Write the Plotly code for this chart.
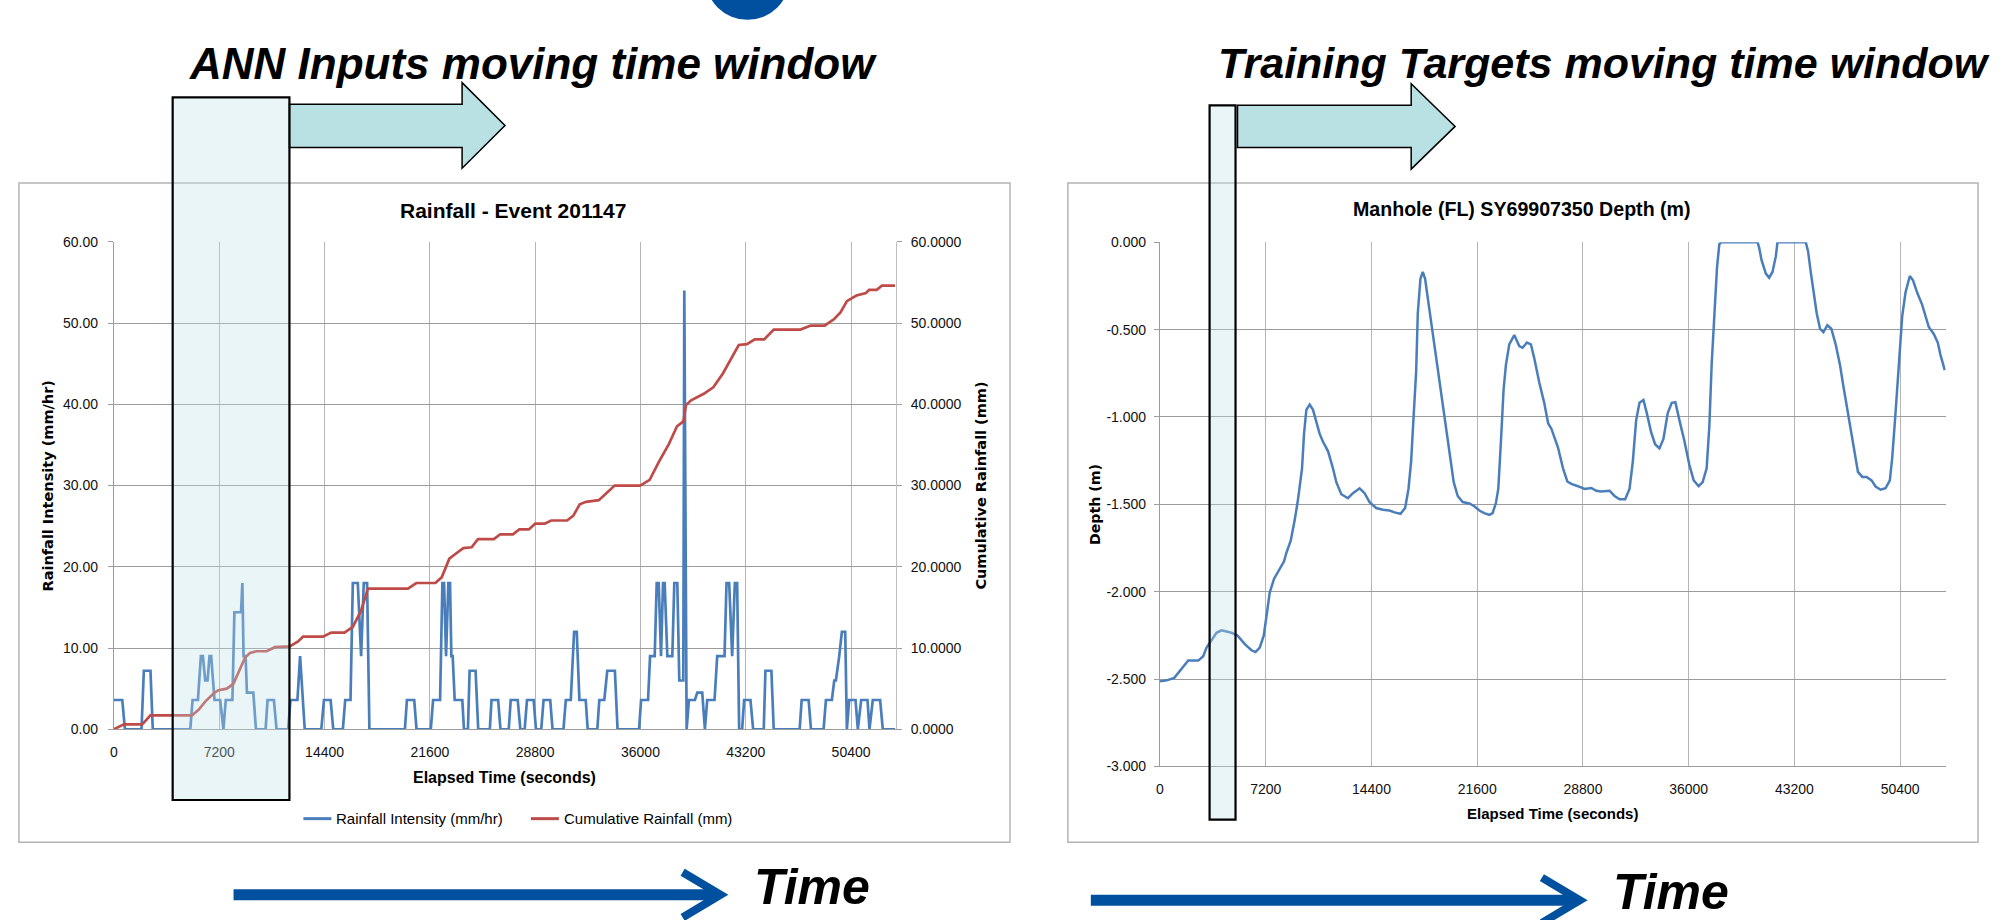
import plotly.graph_objects as go

W, H = 2001, 920

# ---------------- data ----------------
time_intensity = [0, 567, 749, 1883, 2041, 2495, 2654, 5217, 5376, 5739, 5943, 6079, 6238, 6397, 6533, 6646,
                  6873, 7258, 7485, 7644, 8098, 8234, 8688, 8779, 8860, 9000, 9090, 9527, 9708, 10366, 10503,
                  10934, 11115, 11909, 12068, 12544, 12725, 13043, 14177, 14358, 14812, 14993, 15651, 15810,
                  16173, 16332, 16672, 16899, 17081, 17307, 17466,
                  19893, 20030, 20529, 20687, 21662, 21821, 22298, 22457, 22570, 22706, 22865, 22978, 23069,
                  23160, 23296, 23818, 23931, 24203, 24317, 24725, 24906, 25700, 25814, 26267, 26426, 26993,
                  27129, 27606, 27787, 28082, 28241, 28695, 28853, 29216, 29375, 29829, 29988, 30736, 30895,
                  31235, 31462, 31643, 31825, 32256, 32392, 33050, 33186, 33526, 33730, 34252, 34433,
                  35905, 36042, 36519, 36656, 36973, 37110, 37246, 37360, 37406, 37542, 37655, 37837, 38178,
                  38315, 38519, 38656, 38929, 38997, 39156, 39315, 39724, 39883, 40224, 40406, 40565, 41065,
                  41247, 41747, 41884, 42066, 42270, 42453, 42611, 42748, 42952, 43089, 43521, 43703, 44430,
                  44544, 44953, 45112, 46885, 47022, 47499, 47658, 48522, 48681, 49090, 49249, 49363, 49590,
                  49772, 50000, 50113, 50272, 50704, 50863, 51091, 51523, 51659, 51886, 52387, 52569, 53410]
rain_intensity = [3.6, 3.6, 0, 0, 7.2, 7.2, 0, 0, 3.6, 3.6, 9, 9, 6, 6, 9, 9,
                  3.6, 3.6, 0, 3.6, 3.6, 14.4, 14.4, 18, 9, 9, 4.5, 4.5, 0, 0, 3.6,
                  3.6, 0, 0, 3.6, 3.6, 9, 0, 0, 3.6, 3.6, 0, 0, 3.6,
                  3.6, 18, 18, 9, 18, 18, 0,
                  0, 3.6, 3.6, 0, 0, 3.6, 3.6, 18, 18, 9, 18, 18, 9,
                  9, 3.6, 3.6, 0, 0, 7.2, 7.2, 0, 0, 3.6, 3.6, 0, 0,
                  3.6, 3.6, 0, 0, 3.6, 3.6, 0, 0, 3.6, 3.6, 0, 0, 3.6,
                  3.6, 12, 12, 3.6, 3.6, 0, 0, 3.6, 3.6, 7.2, 7.2, 0,
                  0, 3.6, 3.6, 9, 9, 18, 18, 9, 9, 18, 18, 9, 9,
                  18, 18, 6, 6, 54, 0, 3.6, 3.6, 4.5, 4.5, 0, 3.6, 3.6,
                  9, 9, 18, 18, 9, 18, 18, 0, 0, 3.6, 3.6, 0, 0,
                  7.2, 7.2, 0, 0, 3.6, 3.6, 0, 0, 3.6, 3.6, 6, 6, 9,
                  12, 12, 0, 3.6, 3.6, 0, 3.6, 3.6, 0, 3.6, 3.6, 0, 0]

time_cumulative = [0, 681, 1928, 2495, 5330, 5784, 6238, 6805, 7145, 7712, 8166, 8506, 8960, 9300, 9754, 10435,
                   11001, 12022, 12589, 12929, 14290, 14857, 15765, 16332, 16899, 17364, 20104, 20671, 21974,
                   22409, 22931, 23365, 23888, 24455, 24888, 25977, 26409, 27280, 27716, 28365, 28802, 29455,
                   29889, 30979, 31413, 31849, 32280, 33152, 33589, 34236, 35982, 36630, 37285, 37940, 38499,
                   38935, 39112, 39461, 40327, 40981, 41636, 42284, 42720, 43287, 43812, 44460, 45114, 46942,
                   47638, 48593, 49247, 49677, 50113, 50768, 51423, 51634, 52159, 52507, 53410]
rain_cumulative = [0, 0.6, 0.6, 1.7, 1.7, 2.4, 3.4, 4.4, 4.8, 5.0, 5.6, 7.0, 8.8, 9.4, 9.6, 9.6,
                   10.1, 10.2, 10.8, 11.4, 11.4, 11.9, 11.9, 12.6, 14.6, 17.3, 17.3, 18.0, 18.0,
                   18.7, 21.0, 21.6, 22.3, 22.4, 23.4, 23.4, 24.0, 24.0, 24.6, 24.6, 25.3, 25.3,
                   25.7, 25.7, 26.3, 27.7, 28.0, 28.2, 28.9, 30.0, 30.0, 30.7, 33.0, 35.1, 37.3,
                   37.9, 39.9, 40.5, 41.3, 42.1, 43.8, 45.9, 47.3, 47.4, 48.0, 48.0, 49.2, 49.2,
                   49.7, 49.7, 50.5, 51.3, 52.7, 53.4, 53.7, 54.1, 54.1, 54.6, 54.6]

time_depth = [0, 453, 974, 1472, 1925, 2605, 2945, 3171, 3511, 3850, 4190, 4870, 5277, 5776, 6229, 6501,
              6795, 7067, 7248, 7474, 7769, 8154, 8448, 8607, 8901, 9173, 9400, 9672, 9808, 9966, 10193,
              10420, 10646, 10873, 11100, 11439, 11779, 12006, 12346, 12799, 13139, 13592, 13932, 14270,
              14723, 15176, 15629, 15968, 16376, 16693, 16920, 17101, 17282, 17441, 17554, 17735, 17894,
              18052, 18347, 18641, 18913, 19253, 19524, 19751, 20000, 20272, 20612, 21065, 21404, 21744,
              22084, 22424, 22650, 22877, 23035, 23217, 23398, 23556, 23783, 24123, 24462, 24689, 24983,
              25255, 25482, 25822, 26162, 26433, 26649, 27102, 27442, 27736, 28008, 28460, 28913, 29366,
              29706, 30045, 30611, 30951, 31290, 31675, 31970, 32196, 32423, 32649, 32921, 33147, 33441,
              33713, 34007, 34279, 34573, 34845, 35094, 35366, 35705, 36045, 36339, 36679, 36951, 37222,
              37403, 37562, 37743, 37924, 38083, 38196, 40687, 40800, 40958, 41253, 41479, 41705, 41932,
              42045, 43970, 44128, 44309, 44536, 44717, 44943, 45170, 45441, 45713, 46007, 46302, 46528,
              46800, 47139, 47366, 47524, 47819, 48113, 48452, 48724, 49064, 49403, 49697, 49856, 50082,
              50309, 50535, 50762, 51056, 51282, 51554, 51894, 52120, 52347, 52687, 52958, 53139, 53434]
depth_m = [-2.513, -2.507, -2.493, -2.442, -2.394, -2.394, -2.369, -2.32, -2.276, -2.235, -2.221, -2.235,
           -2.25, -2.30, -2.335, -2.345, -2.32, -2.25, -2.142, -2.004, -1.925, -1.866, -1.826, -1.777,
           -1.708, -1.590, -1.471, -1.294, -1.097, -0.959, -0.929, -0.959, -1.028, -1.097, -1.142, -1.195,
           -1.294, -1.373, -1.442, -1.465, -1.436, -1.408, -1.436, -1.487, -1.521, -1.531, -1.535, -1.546,
           -1.554, -1.521, -1.412, -1.254, -0.978, -0.742, -0.406, -0.209, -0.170, -0.209, -0.387, -0.564,
           -0.742, -0.939, -1.097, -1.254, -1.373, -1.452, -1.487, -1.495, -1.511, -1.535, -1.550, -1.560,
           -1.550, -1.491, -1.412, -1.136, -0.840, -0.702, -0.584, -0.531, -0.594, -0.604, -0.574, -0.584,
           -0.663, -0.801, -0.919, -1.037, -1.067, -1.175, -1.294, -1.369, -1.383, -1.396, -1.412, -1.406,
           -1.422, -1.426, -1.422, -1.452, -1.471, -1.471, -1.412, -1.254, -1.018, -0.919, -0.903, -0.978,
           -1.087, -1.156, -1.180, -1.126, -0.978, -0.919, -0.915, -1.018, -1.136, -1.274, -1.363, -1.396,
           -1.373, -1.294, -1.057, -0.702, -0.426, -0.150, -0.012, 0.0, 0.0, -0.032, -0.101, -0.179, -0.203,
           -0.170, -0.081, 0.0, 0.0, -0.051, -0.170, -0.308, -0.406, -0.495, -0.515, -0.475, -0.495, -0.584,
           -0.702, -0.821, -0.959, -1.136, -1.254, -1.314, -1.343, -1.343, -1.363, -1.398, -1.416, -1.408,
           -1.363, -1.235, -0.978, -0.682, -0.426, -0.288, -0.193, -0.219, -0.288, -0.357, -0.426, -0.485,
           -0.525, -0.574, -0.643, -0.732]

x_tick_values = [0, 7200, 14400, 21600, 28800, 36000, 43200, 50400]
x_tick_labels = ["0", "7200", "14400", "21600", "28800", "36000", "43200", "50400"]
depth_tick_values = [-3.0, -2.5, -2.0, -1.5, -1.0, -0.5, 0.0]
depth_tick_labels = ["-3.000", "-2.500", "-2.000", "-1.500", "-1.000", "-0.500", "0.000"]

# ---------------- helpers (pixel -> paper) ----------------
def px(x):
    return x / W


def py(y):
    return 1 - y / H


BLUE = "#4a7ebb"
RED = "#be4b48"
GRID_H = "#9c9c9c"
GRID_V = "#b5b5b5"
TICKFONT = dict(family="Liberation Sans, Arial, sans-serif", size=14, color="#111")

fig = go.Figure()
fig.add_trace(go.Scatter(x=time_intensity, y=rain_intensity, mode="lines", name="Rainfall Intensity (mm/hr)",
                         line=dict(color=BLUE, width=2.7), xaxis="x", yaxis="y", hoverinfo="skip"))
fig.add_trace(go.Scatter(x=time_cumulative, y=rain_cumulative, mode="lines", name="Cumulative Rainfall (mm)",
                         line=dict(color=RED, width=2.7), xaxis="x", yaxis="y2", hoverinfo="skip"))
fig.add_trace(go.Scatter(x=time_depth, y=depth_m, mode="lines", name="Depth (m)",
                         line=dict(color=BLUE, width=2.5), xaxis="x2", yaxis="y3", hoverinfo="skip"))

L_X0, L_X1, L_Y0, L_Y1 = 110.2, 893.6, 238.0, 734.0
R_X0, R_X1, R_Y0, R_Y1 = 1158.3, 1945.6, 238.4, 771.9

common_x = dict(tickvals=x_tick_values, ticktext=x_tick_labels, showgrid=True, gridcolor=GRID_V, gridwidth=1,
                zeroline=False, showline=True, linecolor=GRID_H, linewidth=1.3, ticks="",
                tickfont=TICKFONT, ticklabelstandoff=10)

fig.update_layout(
    width=W, height=H, margin=dict(l=0, r=0, t=0, b=0),
    paper_bgcolor="white", plot_bgcolor="white", showlegend=False,
    xaxis=dict(domain=[px(L_X0), px(L_X1)], range=[0, 53460], anchor="y", **common_x),
    yaxis=dict(domain=[py(L_Y1), py(L_Y0)], range=[0, 60], dtick=10, tick0=0, tickformat=".2f",
               showgrid=True, gridcolor=GRID_H, gridwidth=1.3, zeroline=False,
               showline=True, linecolor=GRID_H, linewidth=1.2, ticks="outside", ticklen=5,
               tickcolor=GRID_H, tickfont=TICKFONT, ticklabelstandoff=7, anchor="x"),
    yaxis2=dict(overlaying="y", side="right", range=[0, 60], dtick=10, tick0=0, tickformat=".4f",
                showgrid=False, zeroline=False, showline=True, linecolor="#c0c0c0", linewidth=1.2,
                ticks="outside", ticklen=5, tickcolor=GRID_H, tickfont=TICKFONT, ticklabelstandoff=6,
                anchor="x"),
    xaxis2=dict(domain=[px(R_X0), px(R_X1)], range=[0, 53500], anchor="y3", **common_x),
    yaxis3=dict(domain=[py(R_Y1), py(R_Y0)], range=[-3, 0], tickvals=depth_tick_values,
                ticktext=depth_tick_labels, showgrid=True, gridcolor=GRID_H, gridwidth=1.3, zeroline=False,
                showline=True, linecolor=GRID_H, linewidth=1.2, ticks="outside", ticklen=5,
                tickcolor=GRID_H, tickfont=TICKFONT, ticklabelstandoff=5, anchor="x2"),
)

shapes = []
# chart frames
for x0, x1 in [(15, 1008), (1066, 1978)]:
    shapes.append(dict(type="rect", xref="paper", yref="paper", x0=px(x0), x1=px(x1), y0=py(849), y1=py(178),
                       line=dict(color="#b4b4b4", width=1.5), fillcolor="rgba(0,0,0,0)", layer="below"))


def path(points):
    s = "M " + " L ".join(f"{px(a):.5f},{py(b):.5f}" for a, b in points)
    return s


TEAL = "#b9e0e3"
# block arrows
for pts in [
    [(286, 98), (459, 98), (459, 76), (502, 119.5), (459, 163), (459, 142), (286, 142)],
    [(1236, 99), (1410, 99), (1410, 77), (1454, 120.5), (1410, 164), (1410, 142), (1236, 142)],
]:
    shapes.append(dict(type="path", xref="paper", yref="paper", path=path(pts) + " Z",
                       fillcolor=TEAL, line=dict(color="black", width=1.5), layer="above"))
# moving windows
for x0, x1, y0, y1 in [(169, 286, 91, 806), (1208, 1234, 99, 826)]:
    shapes.append(dict(type="rect", xref="paper", yref="paper", x0=px(x0), x1=px(x1), y0=py(y1), y1=py(y0),
                       fillcolor="rgba(190,225,230,0.32)", line=dict(color="black", width=2.2), layer="above"))

DARKBLUE = "#0050a0"
# time arrows
for xs, xe, yc, xh, xt in [(230, 712, 902.5, 680, 718), (1089, 1573, 908, 1541, 1579)]:
    shapes.append(dict(type="line", xref="paper", yref="paper", x0=px(xs), x1=px(xe), y0=py(yc), y1=py(yc),
                       line=dict(color=DARKBLUE, width=11)))
    shapes.append(dict(type="path", xref="paper", yref="paper",
                       path=path([(xh, yc - 23), (xt, yc), (xh, yc + 23)]),
                       line=dict(color=DARKBLUE, width=8)))
# partial blue glyph at the top edge
shapes.append(dict(type="circle", xref="paper", yref="paper", x0=px(703), x1=px(787), y0=py(12), y1=py(-72),
                   fillcolor=DARKBLUE, line=dict(width=0)))
# legend samples
for x0, x1, c in [(300, 328, BLUE), (528, 556, RED)]:
    shapes.append(dict(type="line", xref="paper", yref="paper", x0=px(x0), x1=px(x1), y0=py(825), y1=py(825),
                       line=dict(color=c, width=3)))
fig.update_layout(shapes=shapes)

ann = []


def text(x, y, s, size, family="Liberation Sans, Arial, sans-serif", xanchor="center", angle=0, color="#000"):
    ann.append(dict(x=px(x), y=py(y), xref="paper", yref="paper", text=s, showarrow=False,
                    xanchor=xanchor, yanchor="middle", textangle=angle,
                    font=dict(family=family, size=size, color=color)))


text(530, 56, "<b><i>ANN Inputs moving time window</i></b>", 44)
text(1603, 56, "<b><i>Training Targets moving time window</i></b>", 43)
text(810, 895, "<b><i>Time</i></b>", 50)
text(1670, 900, "<b><i>Time</i></b>", 50)
text(510, 206, "<b>Rainfall - Event 201147</b>", 21)
text(1521, 205, "<b>Manhole (FL) SY69907350 Depth (m)</b>", 19.6)
text(502, 783, "<b>Elapsed Time (seconds)</b>", 16)
text(1552, 820, "<b>Elapsed Time (seconds)</b>", 15)
text(44, 486, "<b>Rainfall Intensity (mm/hr)</b>", 14.5, family="DejaVu Sans, sans-serif", angle=-90)
text(979, 486, "<b>Cumulative Rainfall (mm)</b>", 14.5, family="DejaVu Sans, sans-serif", angle=-90)
text(1093, 505, "<b>Depth (m)</b>", 14.2, family="DejaVu Sans, sans-serif", angle=-90)
text(331, 825, "Rainfall Intensity (mm/hr)", 15, xanchor="left")
text(559, 825, "Cumulative Rainfall (mm)", 15, xanchor="left")
fig.update_layout(annotations=ann)

fig.write_html("out.html", config={"displayModeBar": False},
               post_script="document.body.style.margin='0px';")
